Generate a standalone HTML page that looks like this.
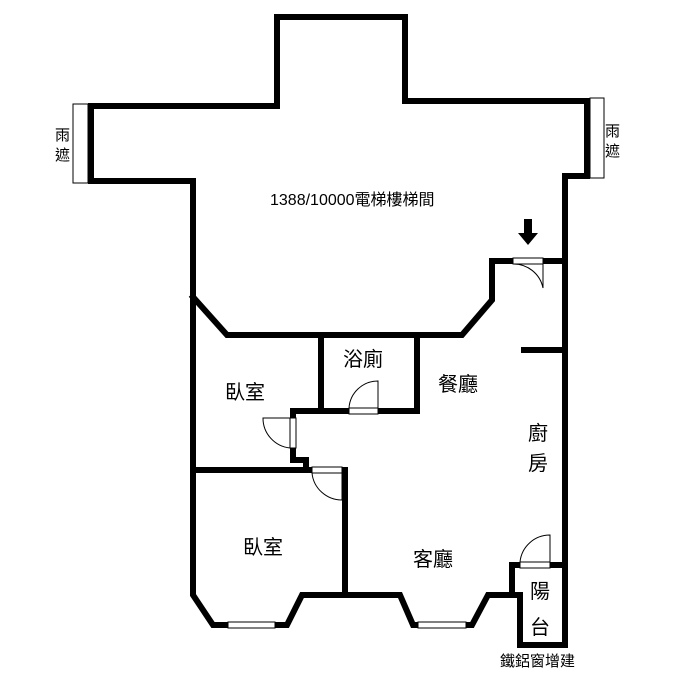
<!DOCTYPE html>
<html><head><meta charset="utf-8"><style>
html,body{margin:0;padding:0;background:#fff;}
svg{display:block;}
text{font-family:"Liberation Sans","Noto Sans CJK TC",sans-serif;fill:#000;}
</style></head><body>
<svg width="675" height="690" viewBox="0 0 675 690" xmlns="http://www.w3.org/2000/svg">
<g fill="none" stroke="#000" stroke-width="6" stroke-linejoin="miter" stroke-linecap="square">
<polyline points="193,297 193,181 91,181 91,106 277,106 277,17 405,17 405,101 587,101 587,176 565,176 565,645"/>
<polyline points="193,297 227,335 462,335 492,300 492,261 513,261"/>
<line x1="543" y1="261" x2="565" y2="261"/>
<line x1="524" y1="350" x2="565" y2="350"/>
<polyline points="193,297 193,595 213,625 228,625"/>
<polyline points="275,625 287,625 302,595 400,595 413,625 418,625"/>
<polyline points="466,625 472,625 488,595 520,595 520,645 565,645"/>
<polyline points="512,595 512,565 520,565"/>
<line x1="550" y1="565" x2="565" y2="565"/>
<polyline points="321,335 321,411 349,411"/>
<polyline points="378,411 417,411 417,335"/>
<polyline points="321,411 293,411 293,418"/>
<polyline points="293,448 293,460 306,460 306,470"/>
<line x1="193" y1="470" x2="312" y2="470"/>
<polyline points="342,470 345,470 345,595"/>
</g>
<g fill="#fff" stroke="#000" stroke-width="1">
<rect x="228" y="622" width="47" height="6"/>
<rect x="418" y="622" width="48" height="6"/>
<rect x="73" y="104" width="15" height="79"/>
<rect x="590" y="98" width="14" height="80"/>
<rect x="513" y="258" width="30" height="6"/>
<rect x="349" y="408" width="29" height="6"/>
<rect x="290" y="418" width="6" height="30"/>
<rect x="312" y="467" width="30" height="6"/>
<rect x="520" y="562" width="30" height="6"/>
</g>
<g fill="none" stroke="#000" stroke-width="1">
<path d="M543,264 L543,288 A30,30 0 0 0 513,264"/>
<path d="M378,408 L378,381 A29,29 0 0 0 349,408"/>
<path d="M290,418 L263,418 A30,30 0 0 0 290,448"/>
<path d="M342,473 L342,500 A30,30 0 0 1 312,473"/>
<path d="M550,562 L550,535 A30,30 0 0 0 520,562"/>
</g>
<polygon points="524,219 532,219 532,233 538,233 528,245 518,233 524,233" fill="#000"/>
<g font-size="20">
<text x="225" y="399">臥室</text>
<text x="343" y="366">浴廁</text>
<text x="438" y="391">餐廳</text>
<text x="528" y="440">廚</text>
<text x="528" y="470">房</text>
<text x="243" y="554">臥室</text>
<text x="413" y="566">客廳</text>
<text x="530" y="598">陽</text>
<text x="530" y="634">台</text>
</g>
<text x="270" y="205" font-size="16">1388/10000電梯樓梯間</text>
<text x="500" y="666" font-size="15">鐵鋁窗增建</text>
<g font-size="15">
<text x="55" y="140">雨</text>
<text x="55" y="160">遮</text>
<text x="605" y="136">雨</text>
<text x="605" y="156">遮</text>
</g>
</svg>
</body></html>
